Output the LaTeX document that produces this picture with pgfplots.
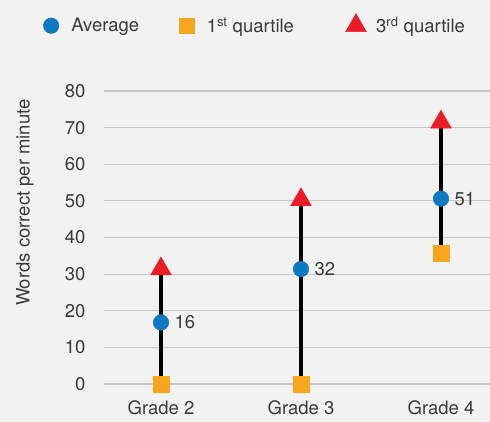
\documentclass[border=0pt]{standalone}
\usepackage{pgfplots}
\pgfplotsset{compat=1.18}
\usepackage{fontspec}
\setmainfont{TeX Gyre Heros}
\definecolor{bg}{HTML}{F2F2F2}
\definecolor{tg}{HTML}{3A3A3A}
\definecolor{gridc}{HTML}{C6C6C6}
\definecolor{avgblue}{HTML}{0B7AC2}
\definecolor{qorange}{HTML}{F9A61E}
\definecolor{qred}{HTML}{EC1C24}
\begin{document}
\begin{tikzpicture}[font=\fontsize{18.5}{22}\selectfont]
\fill[bg] (0,0) rectangle (490pt,422pt);
\path[use as bounding box] (0,0) rectangle (490pt,422pt);
\begin{axis}[
  at={(104pt,38pt)}, anchor=south west,
  scale only axis, width=386pt, height=293pt,
  xmin=-0.407, xmax=2.35, ymin=0, ymax=80,
  clip=false,
  axis line style={draw=none},
  major tick length=0pt,
  ymajorgrids, grid style={gridc, line width=1.1pt},
  ytick={0,10,...,80},
  xtick={0,1,2},
  xticklabels={Grade 2, Grade 3, Grade 4},
  /pgf/number format/assume math mode=true,
  tick label style={text=tg},
  yticklabel style={xshift=-15pt},
  xticklabel style={yshift=-13pt},
  ylabel={Words correct per minute},
  ylabel style={at={(axis description cs:0,0.619)}, anchor=center, yshift=79pt, text=tg},
  legend columns=3,
  legend style={at={(axis description cs:-0.1658,1.2253)}, anchor=west, draw=none, fill=none, inner sep=0pt, outer sep=0pt,
    text=tg,
    /tikz/every odd column/.append style={column sep=7pt},
    /tikz/every even column/.append style={column sep=0pt}},
  legend image code/.code={\path (-11pt,0pt) (11pt,0pt); \draw[#1] plot coordinates {(0pt,0pt)};},
]
\addplot[black, line width=3.5pt, forget plot] coordinates {(0,0) (0,31.4)};
\addplot[black, line width=3.5pt, forget plot] coordinates {(1,0) (1,50.3)};
\addplot[black, line width=3.5pt, forget plot] coordinates {(2,35.7) (2,71.5)};
\addplot[only marks, mark=*, mark size=7.8pt, color=avgblue, mark options={line width=0.4pt},
  nodes near coords, point meta=explicit symbolic,
  every node near coord/.style={anchor=west, xshift=10pt, text=tg}]
  coordinates {(0,16.8)[16] (1,31.4)[32] (2,50.6)[51]};
\addlegendentry{\makebox[102pt][l]{Average}}
\addplot[only marks, mark=square*, mark size=7.8pt, color=qorange, mark options={line width=0.4pt}]
  coordinates {(0,0) (1,0) (2,35.7)};
\addlegendentry{\makebox[136pt][l]{1\textsuperscript{st} quartile}}
\addplot[only marks, mark=triangle*, mark size=12pt, color=qred, mark options={line width=0.4pt}]
  coordinates {(0,31.4) (1,50.3) (2,71.5)};
\addlegendentry{3\textsuperscript{rd} quartile}
\end{axis}
\end{tikzpicture}
\end{document}
